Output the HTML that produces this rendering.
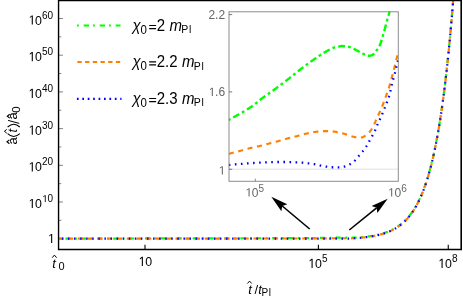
<!DOCTYPE html>
<html><head><meta charset="utf-8"><title>plot</title>
<style>html,body{margin:0;padding:0;background:#fff;}svg{display:block;will-change:transform;}text{font-family:"Liberation Sans",sans-serif;}</style>
</head><body>
<svg width="463" height="301" viewBox="0 0 463 301">
<rect x="0" y="0" width="463" height="301" fill="#ffffff"/>
<line x1="59" y1="238.70" x2="63" y2="238.70" stroke="#666" stroke-width="0.8"/>
<line x1="59" y1="220.35" x2="61.3" y2="220.35" stroke="#666" stroke-width="0.8"/>
<line x1="59" y1="202.00" x2="63" y2="202.00" stroke="#666" stroke-width="0.8"/>
<line x1="59" y1="183.65" x2="61.3" y2="183.65" stroke="#666" stroke-width="0.8"/>
<line x1="59" y1="165.30" x2="63" y2="165.30" stroke="#666" stroke-width="0.8"/>
<line x1="59" y1="146.95" x2="61.3" y2="146.95" stroke="#666" stroke-width="0.8"/>
<line x1="59" y1="128.60" x2="63" y2="128.60" stroke="#666" stroke-width="0.8"/>
<line x1="59" y1="110.25" x2="61.3" y2="110.25" stroke="#666" stroke-width="0.8"/>
<line x1="59" y1="91.90" x2="63" y2="91.90" stroke="#666" stroke-width="0.8"/>
<line x1="59" y1="73.55" x2="61.3" y2="73.55" stroke="#666" stroke-width="0.8"/>
<line x1="59" y1="55.20" x2="63" y2="55.20" stroke="#666" stroke-width="0.8"/>
<line x1="59" y1="36.85" x2="61.3" y2="36.85" stroke="#666" stroke-width="0.8"/>
<line x1="59" y1="18.50" x2="63" y2="18.50" stroke="#666" stroke-width="0.8"/>
<line x1="145.00" y1="244.8" x2="145.00" y2="249" stroke="#000" stroke-width="1.1"/>
<line x1="318.40" y1="244.8" x2="318.40" y2="249" stroke="#000" stroke-width="1.1"/>
<line x1="448.25" y1="244.8" x2="448.25" y2="249" stroke="#000" stroke-width="1.1"/>
<g fill="none" stroke-width="2.2" clip-path="url(#mc)">
<clipPath id="mc"><rect x="59" y="1" width="402" height="248"/></clipPath>
<path d="M59.30 238.65 L64.30 238.64 L69.30 238.63 L74.30 238.62 L79.30 238.61 L84.30 238.60 L89.30 238.59 L94.30 238.58 L99.30 238.57 L104.30 238.56 L109.30 238.55 L114.30 238.54 L119.30 238.53 L124.30 238.52 L129.30 238.51 L134.30 238.50 L139.30 238.49 L144.30 238.47 L149.30 238.46 L154.30 238.45 L159.30 238.44 L164.30 238.43 L169.30 238.42 L174.30 238.41 L179.30 238.40 L184.30 238.39 L189.30 238.38 L194.30 238.37 L199.30 238.36 L204.30 238.35 L209.30 238.34 L214.30 238.33 L219.30 238.32 L224.30 238.31 L229.30 238.30 L234.30 238.29 L239.30 238.28 L244.30 238.27 L249.30 238.26 L254.30 238.25 L259.30 238.24 L264.30 238.23 L269.30 238.22 L274.30 238.21 L279.30 238.20 L284.30 238.19 L289.30 238.18 L294.30 238.17 L299.30 238.16 L300.00 238.16 L300.25 238.15 L300.50 238.15 L300.75 238.15 L301.00 238.15 L301.25 238.15 L301.50 238.15 L301.75 238.15 L302.00 238.15 L302.25 238.15 L302.50 238.15 L302.75 238.15 L303.00 238.15 L303.25 238.15 L303.50 238.15 L303.75 238.15 L304.00 238.15 L304.25 238.15 L304.50 238.15 L304.75 238.15 L305.00 238.14 L305.25 238.14 L305.50 238.14 L305.75 238.14 L306.00 238.14 L306.25 238.14 L306.50 238.14 L306.75 238.14 L307.00 238.14 L307.25 238.14 L307.50 238.14 L307.75 238.14 L308.00 238.14 L308.25 238.14 L308.50 238.14 L308.75 238.14 L309.00 238.14 L309.25 238.14 L309.50 238.14 L309.75 238.13 L310.00 238.13 L310.25 238.13 L310.50 238.13 L310.75 238.13 L311.00 238.12 L311.25 238.12 L311.50 238.11 L311.75 238.11 L312.00 238.11 L312.25 238.10 L312.50 238.10 L312.75 238.09 L313.00 238.09 L313.25 238.09 L313.50 238.08 L313.75 238.08 L314.00 238.07 L314.25 238.07 L314.50 238.07 L314.75 238.06 L315.00 238.06 L315.25 238.05 L315.50 238.05 L315.75 238.04 L316.00 238.04 L316.25 238.04 L316.50 238.03 L316.75 238.03 L317.00 238.02 L317.25 238.02 L317.50 238.01 L317.75 238.01 L318.00 238.00 L318.25 238.00 L318.50 237.99 L318.75 237.99 L319.00 237.98 L319.25 237.97 L319.50 237.97 L319.75 237.96 L320.00 237.96 L320.25 237.95 L320.50 237.95 L320.75 237.94 L321.00 237.94 L321.25 237.93 L321.50 237.93 L321.75 237.93 L322.00 237.92 L322.25 237.92 L322.50 237.91 L322.75 237.91 L323.00 237.90 L323.25 237.90 L323.50 237.89 L323.75 237.89 L324.00 237.88 L324.25 237.88 L324.50 237.88 L324.75 237.87 L325.00 237.87 L325.25 237.86 L325.50 237.86 L325.75 237.85 L326.00 237.85 L326.25 237.84 L326.50 237.84 L326.75 237.83 L327.00 237.83 L327.25 237.82 L327.50 237.82 L327.75 237.81 L328.00 237.81 L328.25 237.81 L328.50 237.80 L328.75 237.80 L329.00 237.79 L329.25 237.79 L329.50 237.78 L329.75 237.78 L330.00 237.77 L330.25 237.77 L330.50 237.76 L330.75 237.76 L331.00 237.75 L331.25 237.75 L331.50 237.74 L331.75 237.74 L332.00 237.73 L332.25 237.73 L332.50 237.73 L332.75 237.72 L333.00 237.72 L333.25 237.71 L333.50 237.71 L333.75 237.70 L334.00 237.70 L334.25 237.70 L334.50 237.69 L334.75 237.69 L335.00 237.68 L335.25 237.68 L335.50 237.68 L335.75 237.67 L336.00 237.67 L336.25 237.67 L336.50 237.66 L336.75 237.66 L337.00 237.65 L337.25 237.65 L337.50 237.65 L337.75 237.64 L338.00 237.64 L338.25 237.64 L338.50 237.63 L338.75 237.63 L339.00 237.63 L339.25 237.62 L339.50 237.62 L339.75 237.62 L340.00 237.61 L340.25 237.61 L340.50 237.61 L340.75 237.61 L341.00 237.60 L341.25 237.60 L341.50 237.60 L341.75 237.59 L342.00 237.59 L342.25 237.59 L342.50 237.59 L342.75 237.59 L343.00 237.59 L343.25 237.59 L343.50 237.58 L343.75 237.58 L344.00 237.58 L344.25 237.58 L344.50 237.58 L344.75 237.58 L345.00 237.58 L345.25 237.58 L345.50 237.58 L345.75 237.58 L346.00 237.59 L346.25 237.59 L346.50 237.59 L346.75 237.59 L347.00 237.59 L347.25 237.59 L347.50 237.59 L347.75 237.59 L348.00 237.60 L348.25 237.60 L348.50 237.60 L348.75 237.61 L349.00 237.61 L349.25 237.61 L349.50 237.61 L349.75 237.62 L350.00 237.62 L350.25 237.62 L350.50 237.62 L350.75 237.63 L351.00 237.63 L351.25 237.63 L351.50 237.64 L351.75 237.64 L352.00 237.64 L352.25 237.64 L352.50 237.64 L352.75 237.64 L353.00 237.64 L353.25 237.64 L353.50 237.64 L353.75 237.64 L354.00 237.63 L354.25 237.63 L354.50 237.62 L354.75 237.62 L355.00 237.61 L355.25 237.60 L355.50 237.59 L355.75 237.59 L356.00 237.58 L356.25 237.56 L356.50 237.55 L356.75 237.53 L357.00 237.51 L357.25 237.50 L357.50 237.48 L357.75 237.46 L358.00 237.44 L358.25 237.43 L358.50 237.41 L358.75 237.39 L359.00 237.38 L359.25 237.36 L359.50 237.34 L359.75 237.33 L360.00 237.31 L360.25 237.30 L360.50 237.28 L360.75 237.27 L361.00 237.25 L361.25 237.23 L361.50 237.22 L361.75 237.20 L362.00 237.17 L362.25 237.15 L362.50 237.12 L362.75 237.10 L363.00 237.07 L363.25 237.04 L363.50 237.02 L363.75 236.99 L364.00 236.96 L364.25 236.93 L364.50 236.91 L364.75 236.88 L365.00 236.85 L365.25 236.82 L365.50 236.79 L365.75 236.76 L366.00 236.73 L366.25 236.70 L366.50 236.67 L366.75 236.63 L367.00 236.60 L367.25 236.57 L367.50 236.54 L367.75 236.50 L368.00 236.47 L368.25 236.43 L368.50 236.40 L368.75 236.36 L369.00 236.33 L369.25 236.29 L369.50 236.25 L369.75 236.22 L370.00 236.18 L370.25 236.14 L370.50 236.10 L370.75 236.06 L371.00 236.02 L371.25 235.98 L371.50 235.94 L371.75 235.90 L372.00 235.86 L372.25 235.81 L372.50 235.77 L372.75 235.73 L373.00 235.68 L373.25 235.64 L373.50 235.59 L373.75 235.55 L374.00 235.50 L374.25 235.45 L374.50 235.40 L374.75 235.35 L375.00 235.31 L375.25 235.26 L375.50 235.20 L375.75 235.15 L376.00 235.10 L376.25 235.05 L376.50 234.99 L376.75 234.94 L377.00 234.89 L377.25 234.83 L377.50 234.77 L377.75 234.72 L378.00 234.66 L378.25 234.60 L378.50 234.54 L378.75 234.48 L379.00 234.42 L379.25 234.36 L379.50 234.29 L379.75 234.23 L380.00 234.17 L380.25 234.10 L380.50 234.03 L380.75 233.97 L381.00 233.90 L381.25 233.83 L381.50 233.76 L381.75 233.69 L382.00 233.62 L382.25 233.55 L382.50 233.47 L382.75 233.40 L383.00 233.32 L383.25 233.24 L383.50 233.17 L383.75 233.09 L384.00 233.01 L384.25 232.93 L384.50 232.85 L384.75 232.76 L385.00 232.68 L385.25 232.59 L385.50 232.51 L385.75 232.42 L386.00 232.33 L386.25 232.24 L386.50 232.15 L386.75 232.06 L387.00 231.96 L387.25 231.87 L387.50 231.77 L387.75 231.68 L388.00 231.58 L388.25 231.48 L388.50 231.38 L388.75 231.27 L389.00 231.17 L389.25 231.06 L389.50 230.96 L389.75 230.85 L390.00 230.74 L390.25 230.63 L390.50 230.51 L390.75 230.40 L391.00 230.29 L391.25 230.17 L391.50 230.05 L391.75 229.93 L392.00 229.81 L392.25 229.68 L392.50 229.56 L392.75 229.43 L393.00 229.30 L393.25 229.17 L393.50 229.04 L393.75 228.91 L394.00 228.77 L394.25 228.63 L394.50 228.49 L394.75 228.35 L395.00 228.21 L395.25 228.06 L395.50 227.92 L395.75 227.77 L396.00 227.62 L396.25 227.46 L396.50 227.31 L396.75 227.15 L397.00 226.99 L397.25 226.83 L397.50 226.67 L397.75 226.50 L398.00 226.33 L398.25 226.16 L398.50 225.99 L398.75 225.82 L399.00 225.64 L399.25 225.46 L399.50 225.28 L399.75 225.09 L400.00 224.91 L400.25 224.72 L400.50 224.53 L400.75 224.33 L401.00 224.13 L401.25 223.93 L401.50 223.73 L401.75 223.53 L402.00 223.32 L402.25 223.11 L402.50 222.90 L402.75 222.68 L403.00 222.46 L403.25 222.24 L403.50 222.01 L403.75 221.79 L404.00 221.55 L404.25 221.32 L404.50 221.08 L404.75 220.84 L405.00 220.60 L405.25 220.35 L405.50 220.10 L405.75 219.85 L406.00 219.59 L406.25 219.33 L406.50 219.07 L406.75 218.80 L407.00 218.53 L407.25 218.25 L407.50 217.98 L407.75 217.69 L408.00 217.41 L408.25 217.12 L408.50 216.83 L408.75 216.53 L409.00 216.23 L409.25 215.92 L409.50 215.61 L409.75 215.30 L410.00 214.98 L410.25 214.66 L410.50 214.33 L410.75 214.00 L411.00 213.67 L411.25 213.33 L411.50 212.98 L411.75 212.63 L412.00 212.28 L412.25 211.92 L412.50 211.56 L412.75 211.19 L413.00 210.82 L413.25 210.44 L413.50 210.06 L413.75 209.67 L414.00 209.28 L414.25 208.88 L414.50 208.47 L414.75 208.06 L415.00 207.65 L415.25 207.23 L415.50 206.80 L415.75 206.37 L416.00 205.94 L416.25 205.49 L416.50 205.04 L416.75 204.59 L417.00 204.13 L417.25 203.66 L417.50 203.19 L417.75 202.71 L418.00 202.22 L418.25 201.73 L418.50 201.23 L418.75 200.72 L419.00 200.21 L419.25 199.69 L419.50 199.16 L419.75 198.63 L420.00 198.09 L420.25 197.54 L420.50 196.98 L420.75 196.42 L421.00 195.85 L421.25 195.27 L421.50 194.69 L421.75 194.09 L422.00 193.49 L422.25 192.88 L422.50 192.26 L422.75 191.64 L423.00 191.00 L423.25 190.36 L423.50 189.71 L423.75 189.05 L424.00 188.38 L424.25 187.70 L424.50 187.01 L424.75 186.32 L425.00 185.61 L425.25 184.90 L425.50 184.17 L425.75 183.44 L426.00 182.69 L426.25 181.94 L426.50 181.17 L426.75 180.40 L427.00 179.61 L427.25 178.82 L427.50 178.01 L427.75 177.20 L428.00 176.37 L428.25 175.53 L428.50 174.68 L428.75 173.82 L429.00 172.94 L429.25 172.06 L429.50 171.16 L429.75 170.26 L430.00 169.33 L430.25 168.40 L430.50 167.46 L430.75 166.50 L431.00 165.53 L431.25 164.54 L431.50 163.55 L431.75 162.54 L432.00 161.51 L432.25 160.47 L432.50 159.42 L432.75 158.36 L433.00 157.28 L433.25 156.18 L433.50 155.07 L433.75 153.95 L434.00 152.81 L434.25 151.66 L434.50 150.49 L434.75 149.30 L435.00 148.10 L435.25 146.88 L435.50 145.65 L435.75 144.40 L436.00 143.13 L436.25 141.85 L436.50 140.55 L436.75 139.23 L437.00 137.90 L437.25 136.54 L437.50 135.17 L437.75 133.78 L438.00 132.37 L438.25 130.94 L438.50 129.50 L438.75 128.03 L439.00 126.54 L439.25 125.04 L439.50 123.51 L439.75 121.97 L440.00 120.40 L440.25 118.81 L440.50 117.20 L440.75 115.57 L441.00 113.92 L441.25 112.24 L441.50 110.55 L441.75 108.83 L442.00 107.09 L442.25 105.32 L442.50 103.53 L442.75 101.72 L443.00 99.88 L443.25 98.02 L443.50 96.13 L443.75 94.22 L444.00 92.28 L444.25 90.31 L444.50 88.32 L444.75 86.31 L445.00 84.26 L445.25 82.19 L445.50 80.09 L445.75 77.96 L446.00 75.81 L446.25 73.62 L446.50 71.41 L446.75 69.16 L447.00 66.89 L447.25 64.59 L447.50 62.25 L447.75 59.89 L448.00 57.49 L448.25 55.06 L448.50 52.60 L448.75 50.10 L449.00 47.57 L449.25 45.01 L449.50 42.41 L449.75 39.78 L450.00 37.11 L450.25 34.41 L450.50 31.67 L450.75 28.90 L451.00 26.09 L451.25 23.24 L451.50 20.35 L451.75 17.42 L452.00 14.45 L452.25 11.45 L452.50 8.40 L452.75 5.32 L453.00 2.19 L453.25 -0.98" stroke="#00ff00" stroke-dasharray="5 4.7 1.6 4.6" stroke-dashoffset="9.70"/>
<path d="M59.30 238.65 L64.30 238.65 L69.30 238.64 L74.30 238.64 L79.30 238.64 L84.30 238.63 L89.30 238.63 L94.30 238.62 L99.30 238.62 L104.30 238.62 L109.30 238.61 L114.30 238.61 L119.30 238.61 L124.30 238.60 L129.30 238.60 L134.30 238.60 L139.30 238.59 L144.30 238.59 L149.30 238.59 L154.30 238.58 L159.30 238.58 L164.30 238.57 L169.30 238.57 L174.30 238.57 L179.30 238.56 L184.30 238.56 L189.30 238.56 L194.30 238.55 L199.30 238.55 L204.30 238.55 L209.30 238.54 L214.30 238.54 L219.30 238.54 L224.30 238.53 L229.30 238.53 L234.30 238.53 L239.30 238.52 L244.30 238.52 L249.30 238.51 L254.30 238.51 L259.30 238.51 L264.30 238.50 L269.30 238.50 L274.30 238.50 L279.30 238.49 L284.30 238.49 L289.30 238.49 L294.30 238.48 L299.30 238.48 L300.00 238.48 L300.25 238.48 L300.50 238.48 L300.75 238.48 L301.00 238.48 L301.25 238.48 L301.50 238.48 L301.75 238.48 L302.00 238.48 L302.25 238.48 L302.50 238.48 L302.75 238.48 L303.00 238.48 L303.25 238.48 L303.50 238.48 L303.75 238.48 L304.00 238.48 L304.25 238.48 L304.50 238.47 L304.75 238.47 L305.00 238.47 L305.25 238.47 L305.50 238.47 L305.75 238.47 L306.00 238.47 L306.25 238.47 L306.50 238.47 L306.75 238.47 L307.00 238.47 L307.25 238.47 L307.50 238.47 L307.75 238.47 L308.00 238.47 L308.25 238.47 L308.50 238.47 L308.75 238.47 L309.00 238.47 L309.25 238.47 L309.50 238.47 L309.75 238.47 L310.00 238.47 L310.25 238.47 L310.50 238.47 L310.75 238.47 L311.00 238.46 L311.25 238.46 L311.50 238.46 L311.75 238.46 L312.00 238.45 L312.25 238.45 L312.50 238.45 L312.75 238.45 L313.00 238.44 L313.25 238.44 L313.50 238.44 L313.75 238.44 L314.00 238.43 L314.25 238.43 L314.50 238.43 L314.75 238.43 L315.00 238.43 L315.25 238.42 L315.50 238.42 L315.75 238.42 L316.00 238.42 L316.25 238.41 L316.50 238.41 L316.75 238.41 L317.00 238.41 L317.25 238.40 L317.50 238.40 L317.75 238.40 L318.00 238.40 L318.25 238.40 L318.50 238.39 L318.75 238.39 L319.00 238.39 L319.25 238.39 L319.50 238.39 L319.75 238.39 L320.00 238.38 L320.25 238.38 L320.50 238.38 L320.75 238.38 L321.00 238.37 L321.25 238.37 L321.50 238.37 L321.75 238.37 L322.00 238.36 L322.25 238.36 L322.50 238.36 L322.75 238.36 L323.00 238.36 L323.25 238.35 L323.50 238.35 L323.75 238.35 L324.00 238.35 L324.25 238.34 L324.50 238.34 L324.75 238.34 L325.00 238.34 L325.25 238.34 L325.50 238.33 L325.75 238.33 L326.00 238.33 L326.25 238.33 L326.50 238.32 L326.75 238.32 L327.00 238.32 L327.25 238.32 L327.50 238.31 L327.75 238.31 L328.00 238.31 L328.25 238.31 L328.50 238.31 L328.75 238.30 L329.00 238.30 L329.25 238.30 L329.50 238.30 L329.75 238.30 L330.00 238.29 L330.25 238.29 L330.50 238.29 L330.75 238.29 L331.00 238.29 L331.25 238.28 L331.50 238.28 L331.75 238.28 L332.00 238.28 L332.25 238.27 L332.50 238.27 L332.75 238.27 L333.00 238.27 L333.25 238.27 L333.50 238.26 L333.75 238.26 L334.00 238.26 L334.25 238.26 L334.50 238.26 L334.75 238.26 L335.00 238.25 L335.25 238.25 L335.50 238.25 L335.75 238.25 L336.00 238.25 L336.25 238.25 L336.50 238.24 L336.75 238.24 L337.00 238.24 L337.25 238.24 L337.50 238.24 L337.75 238.24 L338.00 238.24 L338.25 238.24 L338.50 238.24 L338.75 238.24 L339.00 238.24 L339.25 238.24 L339.50 238.24 L339.75 238.24 L340.00 238.24 L340.25 238.24 L340.50 238.24 L340.75 238.24 L341.00 238.24 L341.25 238.24 L341.50 238.24 L341.75 238.24 L342.00 238.24 L342.25 238.24 L342.50 238.24 L342.75 238.25 L343.00 238.25 L343.25 238.25 L343.50 238.25 L343.75 238.25 L344.00 238.25 L344.25 238.26 L344.50 238.26 L344.75 238.26 L345.00 238.26 L345.25 238.26 L345.50 238.27 L345.75 238.27 L346.00 238.27 L346.25 238.27 L346.50 238.28 L346.75 238.28 L347.00 238.28 L347.25 238.28 L347.50 238.29 L347.75 238.29 L348.00 238.29 L348.25 238.29 L348.50 238.29 L348.75 238.30 L349.00 238.30 L349.25 238.30 L349.50 238.30 L349.75 238.30 L350.00 238.30 L350.25 238.30 L350.50 238.30 L350.75 238.29 L351.00 238.29 L351.25 238.29 L351.50 238.28 L351.75 238.28 L352.00 238.27 L352.25 238.27 L352.50 238.26 L352.75 238.25 L353.00 238.24 L353.25 238.23 L353.50 238.22 L353.75 238.21 L354.00 238.19 L354.25 238.18 L354.50 238.16 L354.75 238.14 L355.00 238.13 L355.25 238.11 L355.50 238.10 L355.75 238.08 L356.00 238.06 L356.25 238.05 L356.50 238.03 L356.75 238.02 L357.00 238.00 L357.25 237.98 L357.50 237.96 L357.75 237.94 L358.00 237.93 L358.25 237.91 L358.50 237.89 L358.75 237.87 L359.00 237.85 L359.25 237.83 L359.50 237.81 L359.75 237.79 L360.00 237.76 L360.25 237.74 L360.50 237.72 L360.75 237.69 L361.00 237.67 L361.25 237.65 L361.50 237.63 L361.75 237.61 L362.00 237.58 L362.25 237.56 L362.50 237.53 L362.75 237.50 L363.00 237.48 L363.25 237.45 L363.50 237.42 L363.75 237.40 L364.00 237.37 L364.25 237.34 L364.50 237.31 L364.75 237.29 L365.00 237.26 L365.25 237.23 L365.50 237.20 L365.75 237.17 L366.00 237.14 L366.25 237.11 L366.50 237.07 L366.75 237.04 L367.00 237.01 L367.25 236.98 L367.50 236.94 L367.75 236.91 L368.00 236.88 L368.25 236.84 L368.50 236.81 L368.75 236.77 L369.00 236.74 L369.25 236.70 L369.50 236.66 L369.75 236.62 L370.00 236.59 L370.25 236.55 L370.50 236.51 L370.75 236.47 L371.00 236.43 L371.25 236.39 L371.50 236.35 L371.75 236.31 L372.00 236.26 L372.25 236.22 L372.50 236.18 L372.75 236.13 L373.00 236.09 L373.25 236.05 L373.50 236.00 L373.75 235.95 L374.00 235.91 L374.25 235.86 L374.50 235.81 L374.75 235.76 L375.00 235.71 L375.25 235.66 L375.50 235.61 L375.75 235.56 L376.00 235.51 L376.25 235.46 L376.50 235.40 L376.75 235.35 L377.00 235.29 L377.25 235.24 L377.50 235.18 L377.75 235.12 L378.00 235.07 L378.25 235.01 L378.50 234.95 L378.75 234.89 L379.00 234.83 L379.25 234.76 L379.50 234.70 L379.75 234.64 L380.00 234.57 L380.25 234.51 L380.50 234.44 L380.75 234.37 L381.00 234.31 L381.25 234.24 L381.50 234.17 L381.75 234.10 L382.00 234.03 L382.25 233.95 L382.50 233.88 L382.75 233.80 L383.00 233.73 L383.25 233.65 L383.50 233.57 L383.75 233.50 L384.00 233.42 L384.25 233.34 L384.50 233.25 L384.75 233.17 L385.00 233.09 L385.25 233.00 L385.50 232.91 L385.75 232.83 L386.00 232.74 L386.25 232.65 L386.50 232.56 L386.75 232.47 L387.00 232.37 L387.25 232.28 L387.50 232.18 L387.75 232.08 L388.00 231.98 L388.25 231.88 L388.50 231.78 L388.75 231.68 L389.00 231.58 L389.25 231.47 L389.50 231.36 L389.75 231.26 L390.00 231.15 L390.25 231.04 L390.50 230.92 L390.75 230.81 L391.00 230.69 L391.25 230.58 L391.50 230.46 L391.75 230.34 L392.00 230.21 L392.25 230.09 L392.50 229.97 L392.75 229.84 L393.00 229.71 L393.25 229.58 L393.50 229.45 L393.75 229.31 L394.00 229.18 L394.25 229.04 L394.50 228.90 L394.75 228.76 L395.00 228.62 L395.25 228.47 L395.50 228.32 L395.75 228.17 L396.00 228.02 L396.25 227.87 L396.50 227.72 L396.75 227.56 L397.00 227.40 L397.25 227.24 L397.50 227.07 L397.75 226.91 L398.00 226.74 L398.25 226.57 L398.50 226.40 L398.75 226.22 L399.00 226.05 L399.25 225.87 L399.50 225.69 L399.75 225.50 L400.00 225.31 L400.25 225.13 L400.50 224.93 L400.75 224.74 L401.00 224.54 L401.25 224.34 L401.50 224.14 L401.75 223.94 L402.00 223.73 L402.25 223.52 L402.50 223.30 L402.75 223.09 L403.00 222.87 L403.25 222.65 L403.50 222.42 L403.75 222.19 L404.00 221.96 L404.25 221.73 L404.50 221.49 L404.75 221.25 L405.00 221.01 L405.25 220.76 L405.50 220.51 L405.75 220.26 L406.00 220.00 L406.25 219.74 L406.50 219.48 L406.75 219.21 L407.00 218.94 L407.25 218.66 L407.50 218.38 L407.75 218.10 L408.00 217.82 L408.25 217.53 L408.50 217.23 L408.75 216.94 L409.00 216.63 L409.25 216.33 L409.50 216.02 L409.75 215.71 L410.00 215.39 L410.25 215.07 L410.50 214.74 L410.75 214.41 L411.00 214.07 L411.25 213.73 L411.50 213.39 L411.75 213.04 L412.00 212.69 L412.25 212.33 L412.50 211.97 L412.75 211.60 L413.00 211.23 L413.25 210.85 L413.50 210.46 L413.75 210.08 L414.00 209.68 L414.25 209.29 L414.50 208.88 L414.75 208.47 L415.00 208.06 L415.25 207.64 L415.50 207.21 L415.75 206.78 L416.00 206.34 L416.25 205.90 L416.50 205.45 L416.75 205.00 L417.00 204.53 L417.25 204.07 L417.50 203.59 L417.75 203.11 L418.00 202.63 L418.25 202.13 L418.50 201.63 L418.75 201.13 L419.00 200.62 L419.25 200.10 L419.50 199.57 L419.75 199.04 L420.00 198.49 L420.25 197.95 L420.50 197.39 L420.75 196.83 L421.00 196.26 L421.25 195.68 L421.50 195.09 L421.75 194.50 L422.00 193.90 L422.25 193.29 L422.50 192.67 L422.75 192.04 L423.00 191.41 L423.25 190.77 L423.50 190.12 L423.75 189.45 L424.00 188.79 L424.25 188.11 L424.50 187.42 L424.75 186.72 L425.00 186.02 L425.25 185.30 L425.50 184.58 L425.75 183.84 L426.00 183.10 L426.25 182.35 L426.50 181.58 L426.75 180.81 L427.00 180.02 L427.25 179.23 L427.50 178.42 L427.75 177.60 L428.00 176.78 L428.25 175.94 L428.50 175.09 L428.75 174.23 L429.00 173.35 L429.25 172.47 L429.50 171.57 L429.75 170.66 L430.00 169.74 L430.25 168.81 L430.50 167.86 L430.75 166.91 L431.00 165.93 L431.25 164.95 L431.50 163.95 L431.75 162.94 L432.00 161.92 L432.25 160.88 L432.50 159.83 L432.75 158.76 L433.00 157.68 L433.25 156.59 L433.50 155.48 L433.75 154.36 L434.00 153.22 L434.25 152.06 L434.50 150.89 L434.75 149.71 L435.00 148.51 L435.25 147.29 L435.50 146.06 L435.75 144.81 L436.00 143.54 L436.25 142.26 L436.50 140.96 L436.75 139.64 L437.00 138.30 L437.25 136.95 L437.50 135.58 L437.75 134.19 L438.00 132.78 L438.25 131.35 L438.50 129.90 L438.75 128.44 L439.00 126.95 L439.25 125.45 L439.50 123.92 L439.75 122.37 L440.00 120.81 L440.25 119.22 L440.50 117.61 L440.75 115.98 L441.00 114.33 L441.25 112.65 L441.50 110.96 L441.75 109.24 L442.00 107.49 L442.25 105.73 L442.50 103.94 L442.75 102.12 L443.00 100.29 L443.25 98.42 L443.50 96.54 L443.75 94.62 L444.00 92.68 L444.25 90.72 L444.50 88.73 L444.75 86.71 L445.00 84.67 L445.25 82.60 L445.50 80.50 L445.75 78.37 L446.00 76.21 L446.25 74.03 L446.50 71.82 L446.75 69.57 L447.00 67.30 L447.25 64.99 L447.50 62.66 L447.75 60.29 L448.00 57.90 L448.25 55.47 L448.50 53.00 L448.75 50.51 L449.00 47.98 L449.25 45.42 L449.50 42.82 L449.75 40.19 L450.00 37.52 L450.25 34.82 L450.50 32.08 L450.75 29.31 L451.00 26.49 L451.25 23.64 L451.50 20.76 L451.75 17.83 L452.00 14.86 L452.25 11.86 L452.50 8.81 L452.75 5.72 L453.00 2.60 L453.25 -0.57" stroke="#ff8000" stroke-dasharray="5 4.75" stroke-dashoffset="0.80"/>
<path d="M59.30 238.65 L64.30 238.65 L69.30 238.65 L74.30 238.65 L79.30 238.65 L84.30 238.64 L89.30 238.64 L94.30 238.64 L99.30 238.64 L104.30 238.64 L109.30 238.64 L114.30 238.64 L119.30 238.64 L124.30 238.64 L129.30 238.64 L134.30 238.63 L139.30 238.63 L144.30 238.63 L149.30 238.63 L154.30 238.63 L159.30 238.63 L164.30 238.63 L169.30 238.63 L174.30 238.63 L179.30 238.63 L184.30 238.62 L189.30 238.62 L194.30 238.62 L199.30 238.62 L204.30 238.62 L209.30 238.62 L214.30 238.62 L219.30 238.62 L224.30 238.62 L229.30 238.62 L234.30 238.61 L239.30 238.61 L244.30 238.61 L249.30 238.61 L254.30 238.61 L259.30 238.61 L264.30 238.61 L269.30 238.61 L274.30 238.61 L279.30 238.61 L284.30 238.60 L289.30 238.60 L294.30 238.60 L299.30 238.60 L300.00 238.60 L300.25 238.60 L300.50 238.60 L300.75 238.60 L301.00 238.60 L301.25 238.60 L301.50 238.60 L301.75 238.60 L302.00 238.60 L302.25 238.60 L302.50 238.60 L302.75 238.60 L303.00 238.60 L303.25 238.60 L303.50 238.60 L303.75 238.60 L304.00 238.60 L304.25 238.60 L304.50 238.60 L304.75 238.60 L305.00 238.60 L305.25 238.60 L305.50 238.60 L305.75 238.60 L306.00 238.60 L306.25 238.60 L306.50 238.60 L306.75 238.60 L307.00 238.60 L307.25 238.60 L307.50 238.60 L307.75 238.60 L308.00 238.60 L308.25 238.60 L308.50 238.60 L308.75 238.60 L309.00 238.60 L309.25 238.60 L309.50 238.60 L309.75 238.60 L310.00 238.60 L310.25 238.60 L310.50 238.60 L310.75 238.60 L311.00 238.60 L311.25 238.59 L311.50 238.59 L311.75 238.59 L312.00 238.59 L312.25 238.59 L312.50 238.59 L312.75 238.59 L313.00 238.59 L313.25 238.59 L313.50 238.59 L313.75 238.59 L314.00 238.59 L314.25 238.59 L314.50 238.58 L314.75 238.58 L315.00 238.58 L315.25 238.58 L315.50 238.58 L315.75 238.58 L316.00 238.58 L316.25 238.58 L316.50 238.58 L316.75 238.58 L317.00 238.58 L317.25 238.58 L317.50 238.58 L317.75 238.58 L318.00 238.57 L318.25 238.57 L318.50 238.57 L318.75 238.57 L319.00 238.57 L319.25 238.57 L319.50 238.57 L319.75 238.57 L320.00 238.57 L320.25 238.57 L320.50 238.57 L320.75 238.57 L321.00 238.57 L321.25 238.57 L321.50 238.57 L321.75 238.57 L322.00 238.57 L322.25 238.57 L322.50 238.57 L322.75 238.57 L323.00 238.57 L323.25 238.56 L323.50 238.56 L323.75 238.56 L324.00 238.56 L324.25 238.56 L324.50 238.56 L324.75 238.56 L325.00 238.56 L325.25 238.56 L325.50 238.56 L325.75 238.56 L326.00 238.56 L326.25 238.56 L326.50 238.56 L326.75 238.56 L327.00 238.56 L327.25 238.56 L327.50 238.56 L327.75 238.56 L328.00 238.56 L328.25 238.56 L328.50 238.56 L328.75 238.56 L329.00 238.56 L329.25 238.56 L329.50 238.57 L329.75 238.57 L330.00 238.57 L330.25 238.57 L330.50 238.57 L330.75 238.57 L331.00 238.57 L331.25 238.57 L331.50 238.57 L331.75 238.57 L332.00 238.57 L332.25 238.57 L332.50 238.57 L332.75 238.57 L333.00 238.57 L333.25 238.57 L333.50 238.58 L333.75 238.58 L334.00 238.58 L334.25 238.58 L334.50 238.58 L334.75 238.58 L335.00 238.58 L335.25 238.58 L335.50 238.59 L335.75 238.59 L336.00 238.59 L336.25 238.59 L336.50 238.59 L336.75 238.59 L337.00 238.60 L337.25 238.60 L337.50 238.60 L337.75 238.60 L338.00 238.61 L338.25 238.61 L338.50 238.61 L338.75 238.61 L339.00 238.61 L339.25 238.61 L339.50 238.62 L339.75 238.62 L340.00 238.62 L340.25 238.62 L340.50 238.62 L340.75 238.62 L341.00 238.62 L341.25 238.62 L341.50 238.63 L341.75 238.63 L342.00 238.63 L342.25 238.63 L342.50 238.63 L342.75 238.63 L343.00 238.63 L343.25 238.63 L343.50 238.63 L343.75 238.63 L344.00 238.63 L344.25 238.62 L344.50 238.62 L344.75 238.62 L345.00 238.62 L345.25 238.62 L345.50 238.61 L345.75 238.61 L346.00 238.61 L346.25 238.60 L346.50 238.60 L346.75 238.59 L347.00 238.59 L347.25 238.58 L347.50 238.57 L347.75 238.57 L348.00 238.56 L348.25 238.55 L348.50 238.55 L348.75 238.54 L349.00 238.52 L349.25 238.51 L349.50 238.50 L349.75 238.49 L350.00 238.48 L350.25 238.47 L350.50 238.46 L350.75 238.45 L351.00 238.44 L351.25 238.42 L351.50 238.41 L351.75 238.40 L352.00 238.39 L352.25 238.37 L352.50 238.36 L352.75 238.34 L353.00 238.33 L353.25 238.31 L353.50 238.30 L353.75 238.28 L354.00 238.27 L354.25 238.25 L354.50 238.24 L354.75 238.22 L355.00 238.20 L355.25 238.18 L355.50 238.16 L355.75 238.15 L356.00 238.13 L356.25 238.12 L356.50 238.10 L356.75 238.08 L357.00 238.06 L357.25 238.05 L357.50 238.03 L357.75 238.01 L358.00 237.99 L358.25 237.98 L358.50 237.96 L358.75 237.94 L359.00 237.92 L359.25 237.89 L359.50 237.86 L359.75 237.84 L360.00 237.81 L360.25 237.79 L360.50 237.77 L360.75 237.75 L361.00 237.72 L361.25 237.70 L361.50 237.68 L361.75 237.65 L362.00 237.63 L362.25 237.60 L362.50 237.58 L362.75 237.55 L363.00 237.53 L363.25 237.50 L363.50 237.47 L363.75 237.45 L364.00 237.42 L364.25 237.39 L364.50 237.36 L364.75 237.33 L365.00 237.30 L365.25 237.28 L365.50 237.25 L365.75 237.22 L366.00 237.18 L366.25 237.15 L366.50 237.12 L366.75 237.09 L367.00 237.06 L367.25 237.03 L367.50 236.99 L367.75 236.96 L368.00 236.92 L368.25 236.89 L368.50 236.85 L368.75 236.82 L369.00 236.78 L369.25 236.75 L369.50 236.71 L369.75 236.67 L370.00 236.63 L370.25 236.60 L370.50 236.56 L370.75 236.52 L371.00 236.48 L371.25 236.44 L371.50 236.40 L371.75 236.36 L372.00 236.31 L372.25 236.27 L372.50 236.23 L372.75 236.18 L373.00 236.14 L373.25 236.09 L373.50 236.05 L373.75 236.00 L374.00 235.95 L374.25 235.91 L374.50 235.86 L374.75 235.81 L375.00 235.76 L375.25 235.71 L375.50 235.66 L375.75 235.61 L376.00 235.56 L376.25 235.50 L376.50 235.45 L376.75 235.40 L377.00 235.34 L377.25 235.29 L377.50 235.23 L377.75 235.17 L378.00 235.11 L378.25 235.06 L378.50 235.00 L378.75 234.94 L379.00 234.87 L379.25 234.81 L379.50 234.75 L379.75 234.69 L380.00 234.62 L380.25 234.56 L380.50 234.49 L380.75 234.42 L381.00 234.35 L381.25 234.29 L381.50 234.22 L381.75 234.15 L382.00 234.07 L382.25 234.00 L382.50 233.93 L382.75 233.85 L383.00 233.78 L383.25 233.70 L383.50 233.62 L383.75 233.54 L384.00 233.46 L384.25 233.38 L384.50 233.30 L384.75 233.22 L385.00 233.13 L385.25 233.05 L385.50 232.96 L385.75 232.88 L386.00 232.79 L386.25 232.70 L386.50 232.61 L386.75 232.51 L387.00 232.42 L387.25 232.33 L387.50 232.23 L387.75 232.13 L388.00 232.03 L388.25 231.93 L388.50 231.83 L388.75 231.73 L389.00 231.62 L389.25 231.52 L389.50 231.41 L389.75 231.30 L390.00 231.19 L390.25 231.08 L390.50 230.97 L390.75 230.86 L391.00 230.74 L391.25 230.62 L391.50 230.50 L391.75 230.38 L392.00 230.26 L392.25 230.14 L392.50 230.01 L392.75 229.89 L393.00 229.76 L393.25 229.63 L393.50 229.49 L393.75 229.36 L394.00 229.23 L394.25 229.09 L394.50 228.95 L394.75 228.81 L395.00 228.66 L395.25 228.52 L395.50 228.37 L395.75 228.22 L396.00 228.07 L396.25 227.92 L396.50 227.76 L396.75 227.61 L397.00 227.45 L397.25 227.29 L397.50 227.12 L397.75 226.96 L398.00 226.79 L398.25 226.62 L398.50 226.45 L398.75 226.27 L399.00 226.09 L399.25 225.92 L399.50 225.73 L399.75 225.55 L400.00 225.36 L400.25 225.17 L400.50 224.98 L400.75 224.79 L401.00 224.59 L401.25 224.39 L401.50 224.19 L401.75 223.98 L402.00 223.78 L402.25 223.57 L402.50 223.35 L402.75 223.14 L403.00 222.92 L403.25 222.69 L403.50 222.47 L403.75 222.24 L404.00 222.01 L404.25 221.78 L404.50 221.54 L404.75 221.30 L405.00 221.06 L405.25 220.81 L405.50 220.56 L405.75 220.30 L406.00 220.05 L406.25 219.79 L406.50 219.52 L406.75 219.26 L407.00 218.99 L407.25 218.71 L407.50 218.43 L407.75 218.15 L408.00 217.86 L408.25 217.57 L408.50 217.28 L408.75 216.98 L409.00 216.68 L409.25 216.38 L409.50 216.07 L409.75 215.75 L410.00 215.44 L410.25 215.11 L410.50 214.79 L410.75 214.46 L411.00 214.12 L411.25 213.78 L411.50 213.44 L411.75 213.09 L412.00 212.74 L412.25 212.38 L412.50 212.01 L412.75 211.65 L413.00 211.27 L413.25 210.90 L413.50 210.51 L413.75 210.13 L414.00 209.73 L414.25 209.33 L414.50 208.93 L414.75 208.52 L415.00 208.11 L415.25 207.69 L415.50 207.26 L415.75 206.83 L416.00 206.39 L416.25 205.95 L416.50 205.50 L416.75 205.04 L417.00 204.58 L417.25 204.12 L417.50 203.64 L417.75 203.16 L418.00 202.68 L418.25 202.18 L418.50 201.68 L418.75 201.18 L419.00 200.66 L419.25 200.14 L419.50 199.62 L419.75 199.08 L420.00 198.54 L420.25 197.99 L420.50 197.44 L420.75 196.88 L421.00 196.31 L421.25 195.73 L421.50 195.14 L421.75 194.55 L422.00 193.95 L422.25 193.34 L422.50 192.72 L422.75 192.09 L423.00 191.46 L423.25 190.82 L423.50 190.16 L423.75 189.50 L424.00 188.83 L424.25 188.16 L424.50 187.47 L424.75 186.77 L425.00 186.07 L425.25 185.35 L425.50 184.63 L425.75 183.89 L426.00 183.15 L426.25 182.39 L426.50 181.63 L426.75 180.85 L427.00 180.07 L427.25 179.27 L427.50 178.47 L427.75 177.65 L428.00 176.82 L428.25 175.99 L428.50 175.14 L428.75 174.27 L429.00 173.40 L429.25 172.52 L429.50 171.62 L429.75 170.71 L430.00 169.79 L430.25 168.86 L430.50 167.91 L430.75 166.95 L431.00 165.98 L431.25 165.00 L431.50 164.00 L431.75 162.99 L432.00 161.97 L432.25 160.93 L432.50 159.88 L432.75 158.81 L433.00 157.73 L433.25 156.64 L433.50 155.53 L433.75 154.41 L434.00 153.27 L434.25 152.11 L434.50 150.94 L434.75 149.76 L435.00 148.56 L435.25 147.34 L435.50 146.11 L435.75 144.86 L436.00 143.59 L436.25 142.31 L436.50 141.01 L436.75 139.69 L437.00 138.35 L437.25 137.00 L437.50 135.63 L437.75 134.24 L438.00 132.83 L438.25 131.40 L438.50 129.95 L438.75 128.49 L439.00 127.00 L439.25 125.49 L439.50 123.97 L439.75 122.42 L440.00 120.86 L440.25 119.27 L440.50 117.66 L440.75 116.03 L441.00 114.38 L441.25 112.70 L441.50 111.00 L441.75 109.28 L442.00 107.54 L442.25 105.78 L442.50 103.99 L442.75 102.17 L443.00 100.33 L443.25 98.47 L443.50 96.58 L443.75 94.67 L444.00 92.73 L444.25 90.77 L444.50 88.78 L444.75 86.76 L445.00 84.72 L445.25 82.65 L445.50 80.55 L445.75 78.42 L446.00 76.26 L446.25 74.08 L446.50 71.86 L446.75 69.62 L447.00 67.35 L447.25 65.04 L447.50 62.71 L447.75 60.34 L448.00 57.94 L448.25 55.51 L448.50 53.05 L448.75 50.56 L449.00 48.03 L449.25 45.47 L449.50 42.87 L449.75 40.24 L450.00 37.57 L450.25 34.87 L450.50 32.13 L450.75 29.35 L451.00 26.54 L451.25 23.69 L451.50 20.80 L451.75 17.88 L452.00 14.91 L452.25 11.90 L452.50 8.86 L452.75 5.77 L453.00 2.64 L453.25 -0.53" stroke="#0000ff" stroke-dasharray="1.5 4.58" stroke-dashoffset="3.53"/>
</g>
<path d="M57.85 0 H462 V250.3 H57.85 Z M59.25 1.2 V248.72 H460.4 V1.2 Z" fill="#000" fill-rule="evenodd"/>
<rect x="229.0" y="11.8" width="169.3" height="169.5" fill="#fff" stroke="none"/>
<line x1="229.0" y1="169.2" x2="398.3" y2="169.2" stroke="#d8d8d8" stroke-width="0.8"/>
<clipPath id="ic"><rect x="228.5" y="11.3" width="170.3" height="170.5"/></clipPath>
<g fill="none" clip-path="url(#ic)">
<path d="M228.60 120.10 L228.98 119.89 L229.46 119.62 L230.02 119.30 L230.66 118.94 L231.34 118.55 L232.07 118.14 L232.82 117.72 L233.58 117.29 L234.33 116.87 L235.06 116.46 L235.76 116.06 L236.40 115.70 L237.01 115.36 L237.60 115.03 L238.19 114.70 L238.77 114.38 L239.34 114.06 L239.91 113.74 L240.47 113.43 L241.03 113.11 L241.60 112.79 L242.16 112.47 L242.73 112.14 L243.30 111.80 L243.88 111.46 L244.46 111.11 L245.05 110.76 L245.63 110.40 L246.22 110.04 L246.81 109.68 L247.39 109.32 L247.97 108.96 L248.54 108.59 L249.10 108.23 L249.66 107.86 L250.20 107.50 L250.73 107.14 L251.26 106.77 L251.78 106.40 L252.30 106.03 L252.81 105.66 L253.31 105.29 L253.81 104.92 L254.30 104.56 L254.78 104.19 L255.26 103.82 L255.73 103.46 L256.20 103.10 L256.65 102.75 L257.08 102.40 L257.49 102.06 L257.89 101.72 L258.28 101.39 L258.67 101.05 L259.06 100.71 L259.47 100.37 L259.89 100.02 L260.33 99.66 L260.80 99.28 L261.30 98.90 L261.83 98.50 L262.40 98.09 L262.98 97.66 L263.59 97.23 L264.22 96.78 L264.85 96.34 L265.49 95.89 L266.13 95.44 L266.77 95.00 L267.39 94.56 L268.01 94.12 L268.60 93.70 L269.18 93.29 L269.76 92.87 L270.33 92.46 L270.90 92.06 L271.47 91.66 L272.03 91.26 L272.59 90.86 L273.14 90.46 L273.69 90.07 L274.23 89.68 L274.77 89.29 L275.30 88.90 L275.82 88.52 L276.33 88.14 L276.83 87.77 L277.33 87.40 L277.81 87.03 L278.30 86.67 L278.79 86.30 L279.27 85.93 L279.77 85.56 L280.27 85.18 L280.78 84.80 L281.30 84.40 L281.84 84.00 L282.38 83.58 L282.94 83.16 L283.51 82.73 L284.08 82.30 L284.65 81.87 L285.22 81.43 L285.79 81.00 L286.36 80.57 L286.92 80.14 L287.46 79.72 L288.00 79.30 L288.52 78.89 L289.03 78.49 L289.54 78.09 L290.03 77.69 L290.52 77.30 L291.01 76.91 L291.50 76.51 L291.99 76.12 L292.48 75.72 L292.98 75.32 L293.48 74.91 L294.00 74.50 L294.53 74.08 L295.06 73.65 L295.61 73.21 L296.16 72.76 L296.71 72.32 L297.27 71.87 L297.82 71.42 L298.37 70.98 L298.92 70.55 L299.46 70.12 L299.98 69.70 L300.50 69.30 L301.00 68.91 L301.48 68.54 L301.96 68.17 L302.42 67.82 L302.88 67.47 L303.34 67.12 L303.79 66.78 L304.26 66.44 L304.72 66.09 L305.20 65.74 L305.69 65.37 L306.20 65.00 L306.72 64.62 L307.26 64.23 L307.80 63.83 L308.36 63.43 L308.92 63.03 L309.48 62.63 L310.05 62.22 L310.62 61.81 L311.19 61.40 L311.77 61.00 L312.33 60.60 L312.90 60.20 L313.46 59.80 L314.03 59.40 L314.60 59.00 L315.18 58.60 L315.75 58.19 L316.32 57.79 L316.90 57.40 L317.47 57.00 L318.03 56.62 L318.59 56.24 L319.15 55.86 L319.70 55.50 L320.24 55.15 L320.77 54.80 L321.29 54.46 L321.80 54.13 L322.31 53.81 L322.82 53.49 L323.34 53.17 L323.85 52.86 L324.37 52.54 L324.90 52.23 L325.45 51.92 L326.00 51.60 L326.57 51.28 L327.16 50.95 L327.76 50.61 L328.38 50.27 L329.00 49.93 L329.62 49.59 L330.24 49.27 L330.86 48.96 L331.46 48.66 L332.06 48.38 L332.64 48.13 L333.20 47.90 L333.75 47.70 L334.30 47.52 L334.84 47.36 L335.37 47.23 L335.90 47.10 L336.42 46.99 L336.92 46.90 L337.41 46.81 L337.89 46.73 L338.35 46.65 L338.78 46.57 L339.20 46.50 L339.58 46.43 L339.90 46.36 L340.19 46.29 L340.45 46.23 L340.69 46.18 L340.93 46.13 L341.18 46.10 L341.44 46.07 L341.73 46.06 L342.07 46.06 L342.45 46.07 L342.90 46.10 L343.41 46.14 L343.97 46.19 L344.58 46.24 L345.22 46.30 L345.89 46.38 L346.58 46.47 L347.29 46.57 L348.00 46.70 L348.72 46.84 L349.43 47.00 L350.12 47.19 L350.80 47.40 L351.47 47.65 L352.15 47.93 L352.84 48.25 L353.53 48.60 L354.23 48.96 L354.92 49.34 L355.60 49.72 L356.28 50.10 L356.94 50.48 L357.58 50.84 L358.20 51.18 L358.80 51.50 L359.38 51.80 L359.94 52.10 L360.49 52.39 L361.02 52.68 L361.54 52.96 L362.05 53.24 L362.54 53.50 L363.02 53.75 L363.49 53.99 L363.94 54.21 L364.38 54.41 L364.80 54.60 L365.20 54.77 L365.58 54.92 L365.94 55.06 L366.29 55.19 L366.61 55.30 L366.93 55.40 L367.24 55.48 L367.55 55.56 L367.85 55.61 L368.16 55.66 L368.48 55.68 L368.80 55.70 L369.13 55.71 L369.46 55.71 L369.78 55.70 L370.11 55.67 L370.44 55.64 L370.76 55.59 L371.09 55.52 L371.41 55.43 L371.73 55.31 L372.06 55.17 L372.38 55.00 L372.70 54.80 L373.02 54.56 L373.35 54.28 L373.68 53.96 L374.01 53.61 L374.35 53.24 L374.68 52.85 L375.00 52.45 L375.32 52.04 L375.63 51.64 L375.93 51.24 L376.22 50.86 L376.50 50.50 L376.77 50.15 L377.03 49.80 L377.28 49.45 L377.53 49.10 L377.76 48.75 L377.99 48.41 L378.22 48.06 L378.43 47.72 L378.64 47.39 L378.83 47.05 L379.02 46.72 L379.20 46.40 L379.36 46.10 L379.50 45.84 L379.62 45.61 L379.73 45.40 L379.83 45.18 L379.93 44.96 L380.03 44.72 L380.13 44.45 L380.25 44.13 L380.38 43.76 L380.53 43.32 L380.70 42.80 L380.90 42.20 L381.11 41.53 L381.34 40.79 L381.59 40.01 L381.84 39.18 L382.11 38.31 L382.37 37.42 L382.64 36.51 L382.91 35.60 L383.18 34.69 L383.45 33.78 L383.70 32.90 L383.95 32.02 L384.20 31.13 L384.45 30.22 L384.70 29.30 L384.95 28.38 L385.20 27.45 L385.45 26.52 L385.70 25.59 L385.95 24.65 L386.20 23.73 L386.45 22.81 L386.70 21.90 L386.96 20.96 L387.23 19.98 L387.52 18.95 L387.81 17.91 L388.10 16.88 L388.39 15.86 L388.66 14.88 L388.92 13.96 L389.16 13.12 L389.37 12.36 L389.56 11.72 L389.70 11.20" stroke="#00ff00" stroke-width="2.4" stroke-dasharray="2.8 3.1 6.9 3.1" stroke-dashoffset="0.6"/>
<path d="M228.80 153.90 L229.38 153.74 L230.12 153.54 L230.99 153.31 L231.97 153.05 L233.04 152.76 L234.16 152.46 L235.31 152.15 L236.47 151.84 L237.61 151.53 L238.72 151.24 L239.75 150.96 L240.70 150.70 L241.58 150.46 L242.42 150.23 L243.24 150.00 L244.04 149.77 L244.83 149.55 L245.60 149.33 L246.36 149.12 L247.12 148.91 L247.88 148.70 L248.64 148.50 L249.42 148.30 L250.20 148.10 L250.99 147.91 L251.78 147.73 L252.57 147.55 L253.37 147.38 L254.16 147.21 L254.95 147.04 L255.74 146.88 L256.53 146.71 L257.32 146.54 L258.12 146.37 L258.91 146.19 L259.70 146.00 L260.49 145.81 L261.28 145.61 L262.07 145.40 L262.87 145.20 L263.66 144.99 L264.45 144.78 L265.24 144.56 L266.03 144.35 L266.82 144.13 L267.62 143.92 L268.41 143.71 L269.20 143.50 L269.99 143.29 L270.78 143.09 L271.57 142.88 L272.37 142.67 L273.16 142.47 L273.95 142.26 L274.74 142.06 L275.53 141.85 L276.32 141.64 L277.12 141.43 L277.91 141.22 L278.70 141.00 L279.49 140.78 L280.29 140.56 L281.08 140.33 L281.87 140.10 L282.67 139.87 L283.46 139.64 L284.26 139.41 L285.05 139.18 L285.84 138.95 L286.63 138.73 L287.42 138.51 L288.20 138.30 L288.99 138.09 L289.78 137.89 L290.59 137.69 L291.39 137.49 L292.19 137.30 L292.99 137.11 L293.78 136.92 L294.56 136.73 L295.32 136.54 L296.07 136.36 L296.80 136.18 L297.50 136.00 L298.17 135.82 L298.79 135.65 L299.39 135.48 L299.96 135.31 L300.51 135.15 L301.06 134.99 L301.62 134.83 L302.19 134.66 L302.78 134.50 L303.41 134.34 L304.08 134.17 L304.80 134.00 L305.57 133.82 L306.39 133.64 L307.24 133.45 L308.13 133.26 L309.03 133.07 L309.96 132.88 L310.89 132.69 L311.83 132.51 L312.77 132.34 L313.69 132.18 L314.61 132.03 L315.50 131.90 L316.38 131.78 L317.26 131.67 L318.14 131.57 L319.02 131.48 L319.90 131.40 L320.77 131.33 L321.65 131.26 L322.51 131.21 L323.37 131.16 L324.22 131.13 L325.07 131.11 L325.90 131.10 L326.72 131.10 L327.54 131.11 L328.34 131.13 L329.13 131.17 L329.92 131.21 L330.71 131.26 L331.49 131.33 L332.27 131.40 L333.05 131.48 L333.83 131.58 L334.61 131.68 L335.40 131.80 L336.19 131.93 L336.98 132.07 L337.77 132.23 L338.57 132.39 L339.36 132.57 L340.15 132.76 L340.94 132.95 L341.73 133.15 L342.52 133.36 L343.32 133.57 L344.11 133.78 L344.90 134.00 L345.70 134.23 L346.52 134.48 L347.34 134.75 L348.17 135.03 L349.01 135.31 L349.83 135.60 L350.65 135.88 L351.45 136.15 L352.23 136.40 L352.98 136.63 L353.71 136.83 L354.40 137.00 L355.06 137.14 L355.68 137.28 L356.28 137.40 L356.86 137.50 L357.41 137.59 L357.95 137.66 L358.47 137.71 L358.99 137.73 L359.50 137.74 L360.00 137.72 L360.50 137.67 L361.00 137.60 L361.50 137.49 L362.00 137.35 L362.50 137.18 L362.99 136.97 L363.47 136.75 L363.94 136.51 L364.41 136.25 L364.86 135.98 L365.29 135.71 L365.71 135.43 L366.12 135.16 L366.50 134.90 L366.86 134.64 L367.20 134.38 L367.52 134.12 L367.82 133.86 L368.11 133.58 L368.38 133.31 L368.65 133.02 L368.91 132.72 L369.18 132.41 L369.45 132.09 L369.72 131.75 L370.00 131.40 L370.29 131.03 L370.58 130.65 L370.87 130.25 L371.16 129.85 L371.45 129.43 L371.74 129.00 L372.02 128.56 L372.31 128.11 L372.59 127.65 L372.86 127.17 L373.13 126.69 L373.40 126.20 L373.65 125.71 L373.88 125.23 L374.10 124.75 L374.31 124.27 L374.52 123.78 L374.72 123.27 L374.94 122.74 L375.17 122.18 L375.41 121.58 L375.68 120.94 L375.97 120.25 L376.30 119.50 L376.67 118.68 L377.07 117.79 L377.51 116.84 L377.97 115.84 L378.44 114.81 L378.93 113.75 L379.42 112.68 L379.91 111.60 L380.39 110.53 L380.85 109.49 L381.29 108.47 L381.70 107.50 L382.09 106.56 L382.46 105.61 L382.82 104.68 L383.17 103.75 L383.52 102.83 L383.85 101.92 L384.18 101.02 L384.49 100.14 L384.80 99.28 L385.11 98.43 L385.41 97.60 L385.70 96.80 L385.99 96.03 L386.26 95.28 L386.53 94.57 L386.79 93.88 L387.05 93.20 L387.29 92.54 L387.54 91.88 L387.77 91.22 L388.01 90.56 L388.24 89.89 L388.47 89.21 L388.70 88.50 L388.93 87.78 L389.15 87.05 L389.36 86.32 L389.57 85.58 L389.78 84.84 L389.98 84.09 L390.18 83.35 L390.39 82.60 L390.59 81.85 L390.79 81.10 L390.99 80.35 L391.20 79.60 L391.41 78.86 L391.62 78.11 L391.83 77.37 L392.04 76.63 L392.25 75.89 L392.46 75.15 L392.67 74.40 L392.88 73.66 L393.09 72.90 L393.29 72.14 L393.50 71.37 L393.70 70.60 L393.90 69.81 L394.09 69.02 L394.29 68.21 L394.48 67.40 L394.67 66.58 L394.86 65.76 L395.04 64.93 L395.23 64.11 L395.42 63.30 L395.61 62.49 L395.81 61.69 L396.00 60.90 L396.20 60.09 L396.42 59.24 L396.65 58.37 L396.88 57.49 L397.11 56.61 L397.34 55.74 L397.57 54.92 L397.77 54.14 L397.97 53.42 L398.14 52.78 L398.28 52.24 L398.40 51.80" stroke="#ff8000" stroke-width="2.15" stroke-dasharray="5.1 4.6" stroke-dashoffset="0"/>
<path d="M228.80 165.00 L229.13 164.97 L229.54 164.92 L230.02 164.87 L230.56 164.81 L231.15 164.74 L231.78 164.67 L232.42 164.61 L233.07 164.54 L233.72 164.47 L234.35 164.41 L234.94 164.35 L235.50 164.30 L236.02 164.26 L236.54 164.22 L237.05 164.18 L237.55 164.15 L238.04 164.12 L238.54 164.09 L239.03 164.06 L239.52 164.03 L240.01 164.00 L240.50 163.97 L241.00 163.94 L241.50 163.90 L242.01 163.86 L242.51 163.82 L243.02 163.78 L243.53 163.74 L244.04 163.69 L244.55 163.65 L245.06 163.61 L245.57 163.56 L246.08 163.52 L246.59 163.48 L247.09 163.44 L247.60 163.40 L248.10 163.36 L248.60 163.33 L249.10 163.29 L249.60 163.26 L250.10 163.23 L250.60 163.19 L251.10 163.16 L251.60 163.13 L252.10 163.10 L252.60 163.07 L253.10 163.03 L253.60 163.00 L254.10 162.97 L254.61 162.93 L255.11 162.90 L255.61 162.86 L256.12 162.83 L256.62 162.79 L257.13 162.76 L257.64 162.73 L258.15 162.69 L258.66 162.66 L259.18 162.63 L259.70 162.60 L260.22 162.57 L260.75 162.54 L261.28 162.52 L261.82 162.49 L262.36 162.46 L262.89 162.44 L263.43 162.41 L263.97 162.39 L264.51 162.37 L265.04 162.34 L265.57 162.32 L266.10 162.30 L266.62 162.28 L267.15 162.26 L267.67 162.24 L268.19 162.22 L268.71 162.20 L269.23 162.19 L269.74 162.17 L270.26 162.16 L270.77 162.14 L271.28 162.13 L271.79 162.11 L272.30 162.10 L272.81 162.09 L273.31 162.08 L273.81 162.07 L274.31 162.06 L274.81 162.05 L275.31 162.04 L275.80 162.03 L276.30 162.02 L276.80 162.02 L277.30 162.01 L277.80 162.00 L278.30 162.00 L278.81 162.00 L279.31 161.99 L279.82 161.99 L280.33 161.99 L280.84 161.99 L281.35 161.99 L281.86 161.99 L282.37 161.99 L282.88 161.99 L283.39 161.99 L283.89 162.00 L284.40 162.00 L284.90 162.00 L285.40 162.01 L285.90 162.02 L286.40 162.02 L286.90 162.03 L287.40 162.04 L287.90 162.05 L288.40 162.06 L288.90 162.07 L289.40 162.08 L289.90 162.09 L290.40 162.10 L290.91 162.11 L291.41 162.13 L291.92 162.14 L292.43 162.15 L292.94 162.17 L293.45 162.18 L293.96 162.20 L294.47 162.21 L294.98 162.23 L295.49 162.25 L295.99 162.28 L296.50 162.30 L297.00 162.33 L297.50 162.35 L298.00 162.38 L298.49 162.41 L298.98 162.44 L299.48 162.47 L299.97 162.50 L300.47 162.54 L300.97 162.57 L301.47 162.61 L301.98 162.66 L302.50 162.70 L303.03 162.75 L303.56 162.80 L304.10 162.85 L304.65 162.90 L305.20 162.96 L305.75 163.02 L306.30 163.08 L306.85 163.14 L307.40 163.20 L307.94 163.27 L308.47 163.33 L309.00 163.40 L309.52 163.47 L310.03 163.53 L310.54 163.60 L311.04 163.67 L311.54 163.74 L312.03 163.81 L312.53 163.88 L313.02 163.96 L313.51 164.04 L314.01 164.12 L314.50 164.21 L315.00 164.30 L315.50 164.40 L316.00 164.51 L316.50 164.62 L317.00 164.74 L317.51 164.87 L318.01 164.99 L318.51 165.12 L319.01 165.24 L319.51 165.37 L320.01 165.48 L320.50 165.60 L321.00 165.70 L321.49 165.80 L321.99 165.89 L322.48 165.99 L322.97 166.08 L323.46 166.17 L323.95 166.25 L324.44 166.33 L324.93 166.41 L325.42 166.49 L325.91 166.56 L326.41 166.63 L326.90 166.70 L327.40 166.77 L327.89 166.83 L328.39 166.89 L328.89 166.95 L329.39 167.00 L329.89 167.06 L330.39 167.11 L330.90 167.15 L331.40 167.19 L331.90 167.23 L332.40 167.27 L332.90 167.30 L333.40 167.33 L333.90 167.36 L334.40 167.39 L334.90 167.41 L335.40 167.43 L335.90 167.45 L336.40 167.46 L336.90 167.47 L337.40 167.46 L337.90 167.45 L338.40 167.43 L338.90 167.40 L339.40 167.36 L339.91 167.31 L340.41 167.26 L340.92 167.20 L341.43 167.14 L341.93 167.06 L342.44 166.98 L342.94 166.89 L343.44 166.78 L343.93 166.67 L344.42 166.54 L344.90 166.40 L345.38 166.25 L345.85 166.08 L346.33 165.91 L346.80 165.72 L347.26 165.52 L347.72 165.31 L348.18 165.10 L348.64 164.87 L349.09 164.64 L349.53 164.40 L349.97 164.15 L350.40 163.90 L350.83 163.64 L351.25 163.38 L351.67 163.11 L352.08 162.83 L352.49 162.54 L352.89 162.24 L353.29 161.94 L353.69 161.63 L354.07 161.31 L354.45 160.98 L354.83 160.65 L355.20 160.30 L355.56 159.94 L355.92 159.57 L356.26 159.18 L356.60 158.78 L356.93 158.37 L357.26 157.96 L357.59 157.54 L357.91 157.12 L358.23 156.71 L358.55 156.30 L358.88 155.89 L359.20 155.50 L359.52 155.12 L359.85 154.74 L360.17 154.37 L360.49 154.00 L360.81 153.63 L361.12 153.26 L361.44 152.90 L361.76 152.53 L362.07 152.15 L362.38 151.78 L362.69 151.39 L363.00 151.00 L363.31 150.60 L363.62 150.20 L363.93 149.80 L364.23 149.39 L364.54 148.98 L364.84 148.56 L365.15 148.14 L365.44 147.72 L365.74 147.30 L366.03 146.87 L366.32 146.44 L366.60 146.00 L366.88 145.56 L367.15 145.11 L367.41 144.66 L367.68 144.20 L367.94 143.73 L368.19 143.27 L368.45 142.80 L368.70 142.34 L368.95 141.87 L369.20 141.41 L369.45 140.95 L369.70 140.50 L369.95 140.05 L370.19 139.61 L370.44 139.17 L370.68 138.73 L370.92 138.29 L371.16 137.86 L371.40 137.42 L371.64 136.98 L371.88 136.54 L372.12 136.10 L372.36 135.65 L372.60 135.20 L372.84 134.74 L373.09 134.29 L373.34 133.83 L373.59 133.36 L373.84 132.90 L374.09 132.43 L374.33 131.96 L374.58 131.49 L374.82 131.02 L375.05 130.55 L375.28 130.07 L375.50 129.60 L375.71 129.13 L375.90 128.67 L376.09 128.21 L376.27 127.75 L376.44 127.29 L376.61 126.83 L376.79 126.35 L376.97 125.87 L377.15 125.38 L377.35 124.87 L377.57 124.35 L377.80 123.80 L378.05 123.23 L378.31 122.65 L378.59 122.06 L378.87 121.45 L379.16 120.83 L379.46 120.20 L379.77 119.56 L380.07 118.90 L380.38 118.24 L380.69 117.57 L381.00 116.89 L381.30 116.20 L381.60 115.51 L381.90 114.81 L382.20 114.11 L382.50 113.41 L382.80 112.69 L383.10 111.96 L383.41 111.22 L383.71 110.46 L384.03 109.68 L384.35 108.88 L384.67 108.05 L385.00 107.20 L385.34 106.31 L385.70 105.39 L386.07 104.44 L386.45 103.47 L386.83 102.47 L387.21 101.46 L387.59 100.44 L387.96 99.42 L388.32 98.40 L388.67 97.39 L389.00 96.39 L389.30 95.40 L389.58 94.41 L389.86 93.39 L390.11 92.35 L390.36 91.31 L390.59 90.27 L390.82 89.24 L391.03 88.23 L391.24 87.24 L391.44 86.30 L391.63 85.41 L391.82 84.57 L392.00 83.80 L392.17 83.10 L392.33 82.47 L392.48 81.90 L392.61 81.38 L392.74 80.89 L392.87 80.44 L392.99 80.00 L393.11 79.58 L393.23 79.15 L393.35 78.72 L393.47 78.28 L393.60 77.80 L393.73 77.31 L393.87 76.82 L394.00 76.34 L394.14 75.86 L394.28 75.38 L394.41 74.90 L394.55 74.42 L394.68 73.94 L394.81 73.46 L394.94 72.98 L395.07 72.49 L395.20 72.00 L395.32 71.51 L395.44 71.02 L395.56 70.53 L395.67 70.03 L395.78 69.54 L395.89 69.04 L396.01 68.55 L396.12 68.04 L396.23 67.54 L396.35 67.03 L396.47 66.52 L396.60 66.00 L396.74 65.46 L396.89 64.87 L397.04 64.26 L397.21 63.63 L397.37 63.00 L397.54 62.38 L397.70 61.77 L397.85 61.20 L397.99 60.68 L398.11 60.21 L398.22 59.82 L398.30 59.50" stroke="#0000ff" stroke-width="2.3" stroke-dasharray="1.6 4.48" stroke-dashoffset="0"/>
</g>
<rect x="229.0" y="11.8" width="169.3" height="169.5" fill="none" stroke="#8c8c8c" stroke-width="1"/>
<line x1="229.0" y1="14.6" x2="232.2" y2="14.6" stroke="#686868" stroke-width="0.9"/>
<line x1="229.0" y1="91.9" x2="232.2" y2="91.9" stroke="#686868" stroke-width="0.9"/>
<line x1="229.0" y1="169.3" x2="232.2" y2="169.3" stroke="#686868" stroke-width="0.9"/>
<line x1="255.3" y1="178.6" x2="255.3" y2="181.3" stroke="#808080" stroke-width="0.9"/>
<g fill="#666" font-size="12px">
<text x="208.42 215.09 218.43" y="18.60" font-size="12.0px">2.2</text>
<path transform="translate(208.78 96.10) scale(0.00586 -0.00586)" d="M515 0V1237L197 1010V1180L530 1409H696V0Z"/>
<text x="215.09 218.43" y="96.10" font-size="12.0px">.6</text>
<path transform="translate(218.79 174.40) scale(0.00586 -0.00586)" d="M515 0V1237L197 1010V1180L530 1409H696V0Z"/>
<path transform="translate(245.52 196.60) scale(0.00586 -0.00586)" d="M515 0V1237L197 1010V1180L530 1409H696V0Z"/>
<text x="251.83" y="196.60" font-size="12.0px">0</text>
<text x="258.60" y="191.60" font-size="10.0px">5</text>
<path transform="translate(388.12 196.60) scale(0.00586 -0.00586)" d="M515 0V1237L197 1010V1180L530 1409H696V0Z"/>
<text x="394.43" y="196.60" font-size="12.0px">0</text>
<text x="401.30" y="191.80" font-size="10.0px">6</text>
</g>
<line x1="309.70" y1="229.00" x2="282.26" y2="205.99" stroke="#000" stroke-width="1.6"/>
<path d="M271.30 196.80 L281.37 211.25 L282.26 205.99 L287.28 204.20 Z" fill="#000"/>
<line x1="349.30" y1="230.00" x2="376.60" y2="207.82" stroke="#000" stroke-width="1.6"/>
<path d="M387.70 198.80 L371.61 205.95 L376.60 207.82 L377.41 213.09 Z" fill="#000"/>
<g fill="#000" font-size="13px">
<g transform="translate(54.50 243.10) scale(0.950 1.030) translate(-54.50 -243.10)">
<path transform="translate(47.66 243.10) scale(0.00635 -0.00635)" d="M515 0V1237L197 1010V1180L530 1409H696V0Z"/>
</g>
<g transform="translate(42.00 208.10) scale(0.950 1.030) translate(-42.00 -208.10)">
<path transform="translate(27.93 208.10) scale(0.00635 -0.00635)" d="M515 0V1237L197 1010V1180L530 1409H696V0Z"/>
<text x="34.77" y="208.10" font-size="13.0px">0</text>
</g>
<path transform="translate(42.30 202.10) scale(0.00488 -0.00488)" d="M515 0V1237L197 1010V1180L530 1409H696V0Z"/>
<text x="47.56" y="202.10" font-size="10.0px">0</text>
<g transform="translate(42.00 171.40) scale(0.950 1.030) translate(-42.00 -171.40)">
<path transform="translate(27.93 171.40) scale(0.00635 -0.00635)" d="M515 0V1237L197 1010V1180L530 1409H696V0Z"/>
<text x="34.77" y="171.40" font-size="13.0px">0</text>
</g>
<text x="42.00 47.56" y="165.40" font-size="10.0px">20</text>
<g transform="translate(42.00 134.70) scale(0.950 1.030) translate(-42.00 -134.70)">
<path transform="translate(27.93 134.70) scale(0.00635 -0.00635)" d="M515 0V1237L197 1010V1180L530 1409H696V0Z"/>
<text x="34.77" y="134.70" font-size="13.0px">0</text>
</g>
<text x="42.00 47.56" y="128.70" font-size="10.0px">30</text>
<g transform="translate(42.00 98.00) scale(0.950 1.030) translate(-42.00 -98.00)">
<path transform="translate(27.93 98.00) scale(0.00635 -0.00635)" d="M515 0V1237L197 1010V1180L530 1409H696V0Z"/>
<text x="34.77" y="98.00" font-size="13.0px">0</text>
</g>
<text x="42.00 47.56" y="92.00" font-size="10.0px">40</text>
<g transform="translate(42.00 61.30) scale(0.950 1.030) translate(-42.00 -61.30)">
<path transform="translate(27.93 61.30) scale(0.00635 -0.00635)" d="M515 0V1237L197 1010V1180L530 1409H696V0Z"/>
<text x="34.77" y="61.30" font-size="13.0px">0</text>
</g>
<text x="42.00 47.56" y="55.30" font-size="10.0px">50</text>
<g transform="translate(42.00 24.60) scale(0.950 1.030) translate(-42.00 -24.60)">
<path transform="translate(27.93 24.60) scale(0.00635 -0.00635)" d="M515 0V1237L197 1010V1180L530 1409H696V0Z"/>
<text x="34.77" y="24.60" font-size="13.0px">0</text>
</g>
<text x="42.00 47.56" y="18.60" font-size="10.0px">60</text>
<g transform="translate(145.20 266.00) scale(0.950 1.030) translate(-145.20 -266.00)">
<path transform="translate(138.36 266.00) scale(0.00635 -0.00635)" d="M515 0V1237L197 1010V1180L530 1409H696V0Z"/>
<text x="145.20" y="266.00" font-size="13.0px">0</text>
</g>
<g transform="translate(321.80 268.00) scale(0.950 1.030) translate(-321.80 -268.00)">
<path transform="translate(307.73 268.00) scale(0.00635 -0.00635)" d="M515 0V1237L197 1010V1180L530 1409H696V0Z"/>
<text x="314.57" y="268.00" font-size="13.0px">0</text>
</g>
<text x="321.90" y="262.30" font-size="10.0px">5</text>
<g transform="translate(451.80 268.00) scale(0.950 1.030) translate(-451.80 -268.00)">
<path transform="translate(437.73 268.00) scale(0.00635 -0.00635)" d="M515 0V1237L197 1010V1180L530 1409H696V0Z"/>
<text x="444.57" y="268.00" font-size="13.0px">0</text>
</g>
<text x="451.90" y="262.30" font-size="10.0px">8</text>
<text x="52.2" y="267.8" font-style="italic">t</text><text x="58.5" y="269.9" font-size="11px">0</text>
<path d="M52.2 257.7 L54.4 255.1 L56.6 257.7" fill="none" stroke="#000" stroke-width="1.0"/>
<text x="248.2" y="293.8" font-style="italic">t</text>
<path d="M247.4 283.5 L249.55 281.1 L251.7 283.5" fill="none" stroke="#000" stroke-width="1.0"/>
<text x="254.5" y="293.8">/</text><text x="258.2" y="293.8" font-style="italic">t</text><text x="261.6" y="295.7" font-size="10px" letter-spacing="0.4">Pl</text>
</g>
<g transform="rotate(-90)" fill="#000" font-size="13px">
<text x="-144.4" y="17.1">a</text>
<path d="M-133.7 7.6 Q-139.4 13.7 -133.7 19.8" fill="none" stroke="#000" stroke-width="1.05"/>
<text x="-132.6" y="17.1" font-style="italic">t</text>
<path d="M-127.0 7.6 Q-121.4 13.7 -127.0 19.8" fill="none" stroke="#000" stroke-width="1.05"/>
<line x1="-123.4" y1="19.3" x2="-120.4" y2="8.1" stroke="#000" stroke-width="1"/>
<text x="-119.6" y="17.1">a</text>
<text x="-112.7" y="19.5" font-size="11.5px">0</text>
<path d="M-143.70 9.40 L-141.80 7.00 L-139.90 9.40" fill="none" stroke="#000" stroke-width="1.1"/>
<path d="M-133.20 6.80 L-131.30 4.40 L-129.40 6.80" fill="none" stroke="#000" stroke-width="1.0"/>
<path d="M-118.10 9.70 L-116.20 7.30 L-114.30 9.70" fill="none" stroke="#000" stroke-width="1.1"/>
</g>
<g fill="none" stroke-width="2.2">
<line x1="77" y1="25.5" x2="120.5" y2="25.5" stroke="#00ff00" stroke-dasharray="1.8 4.9 5.3 4.0"/>
<line x1="77.4" y1="62" x2="121" y2="62" stroke="#ff8000" stroke-dasharray="4.3 3.4"/>
<line x1="76.9" y1="98.8" x2="121.5" y2="98.8" stroke="#0000ff" stroke-dasharray="1.7 3.72"/>
</g>
<g fill="#000" font-size="15px">
<g transform="translate(0 31.00) scale(1 1.05) translate(0 -31.00)">
<text x="132.5" y="31.0" font-style="italic">χ</text>
<text x="140.6" y="33.4" font-size="11.5px">0</text>
<path d="M149.2 25.80 H156.1 M149.2 28.70 H156.1" stroke="#000" stroke-width="1.05" fill="none"/>
<text x="156.76" y="31.0">2</text>
<text x="169.5" y="31.0" font-style="italic">m</text>
<text x="181.2" y="33.2" font-size="10.5px" letter-spacing="0.7">Pl</text>
</g>
<g transform="translate(0 67.30) scale(1 1.05) translate(0 -67.30)">
<text x="132.5" y="67.3" font-style="italic">χ</text>
<text x="140.6" y="69.7" font-size="11.5px">0</text>
<path d="M149.2 62.10 H156.1 M149.2 65.00 H156.1" stroke="#000" stroke-width="1.05" fill="none"/>
<text x="156.76" y="67.3">2.2</text>
<text x="182.0" y="67.3" font-style="italic">m</text>
<text x="193.7" y="69.5" font-size="10.5px" letter-spacing="0.7">Pl</text>
</g>
<g transform="translate(0 104.00) scale(1 1.05) translate(0 -104.00)">
<text x="132.5" y="104.0" font-style="italic">χ</text>
<text x="140.6" y="106.4" font-size="11.5px">0</text>
<path d="M149.2 98.80 H156.1 M149.2 101.70 H156.1" stroke="#000" stroke-width="1.05" fill="none"/>
<text x="156.76" y="104.0">2.3</text>
<text x="182.0" y="104.0" font-style="italic">m</text>
<text x="193.7" y="106.2" font-size="10.5px" letter-spacing="0.7">Pl</text>
</g>
</g>
</svg></body></html>
